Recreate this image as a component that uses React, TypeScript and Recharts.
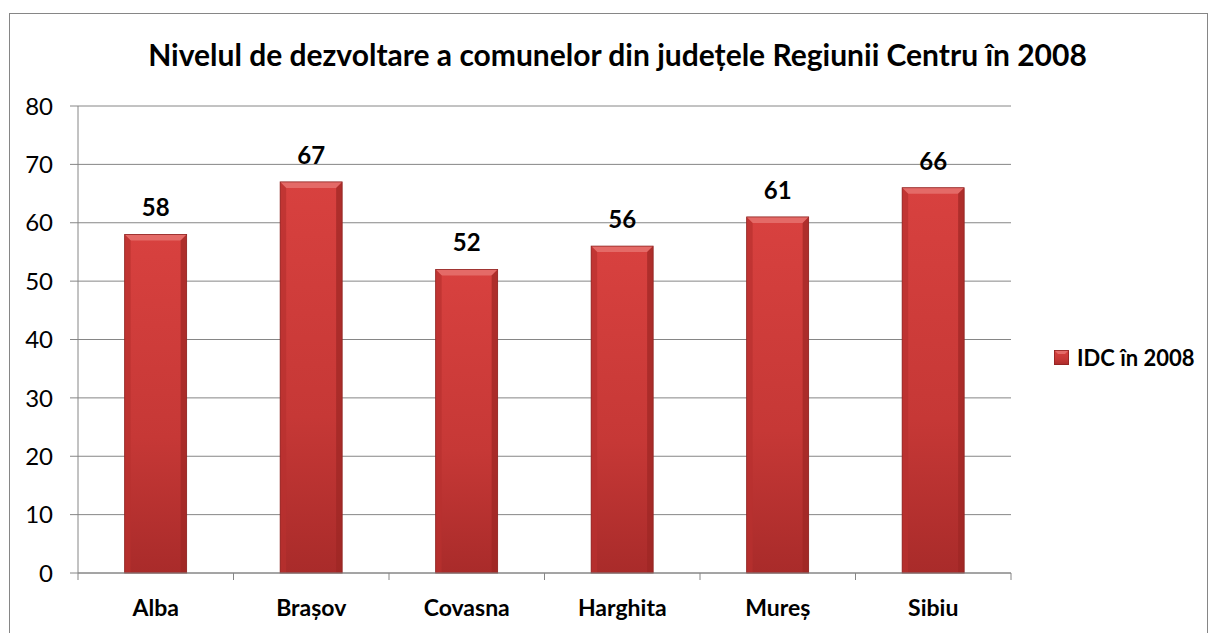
import { BarChart, Bar, XAxis, YAxis, CartesianGrid, LabelList } from 'recharts'

const judete = ['Alba', 'Brașov', 'Covasna', 'Harghita', 'Mureș', 'Sibiu']
const idc2008 = [58, 67, 52, 56, 61, 66]
const yTicks = [0, 10, 20, 30, 40, 50, 60, 70, 80]

const data = judete.map((name, i) => ({ name, idc: idc2008[i] }))

const FONT = 'Lato, "Open Sans", sans-serif'

function BevelBar(props: any) {
    const { x, y, width, height } = props
    if (!height || height <= 0) return null
    const b = 6
    return (
        <g>
            <rect x={x} y={y} width={width} height={height} fill="url(#barFill)" />
            <polygon points={`${x},${y} ${x + width},${y} ${x + width - b},${y + b} ${x + b},${y + b}`} fill="#e46a67" />
            <polygon points={`${x},${y} ${x + b},${y + b} ${x + b},${y + height} ${x},${y + height}`} fill="#b8302f" opacity={0.7} />
            <polygon points={`${x + width},${y} ${x + width - b},${y + b} ${x + width - b},${y + height} ${x + width},${y + height}`} fill="#9c2624" opacity={0.7} />
            <rect x={x} y={y} width={width} height={height} fill="none" stroke="#8f2422" strokeWidth={0.8} />
        </g>
    )
}

function CategoryTick(props: any) {
    const { x, y, payload, width, visibleTicksCount, index } = props
    const band = width / visibleTicksCount
    return (
        <g>
            <line x1={x - band / 2} y1={y} x2={x - band / 2} y2={y + 7} stroke="#868686" />
            {index === visibleTicksCount - 1 && (
                <line x1={x + band / 2} y1={y} x2={x + band / 2} y2={y + 7} stroke="#868686" />
            )}
            <text x={x} y={y + 27} dy="0.71em" textAnchor="middle" fill="#000" fontWeight="bold" fontSize={23} fontFamily={FONT}>
                {payload.value}
            </text>
        </g>
    )
}

function ValueTick(props: any) {
    const { x, y, payload } = props
    return (
        <text x={x} y={y} dy="0.36em" textAnchor="end" fill="#000" fontSize={24} fontFamily={FONT}>
            {payload.value}
        </text>
    )
}

export default function App() {
    return (
        <div style={{ position: 'absolute', left: 0, top: 0, width: 1215, height: 633, background: '#fff', overflow: 'hidden' }}>
            <div style={{ position: 'absolute', left: 9, top: 13, width: 1197, height: 640, border: '1.5px solid #868686' }} />
            <div style={{ position: 'absolute', left: 0, top: 36, width: 1235, textAlign: 'center', fontFamily: FONT, fontWeight: 'bold', fontSize: 30, color: '#000' }}>
                Nivelul de dezvoltare a comunelor din județele Regiunii Centru în 2008
            </div>
            <div style={{ position: 'absolute', left: 0, top: 0 }}>
                <BarChart width={1215} height={633} data={data} margin={{ top: 106, right: 204, bottom: 0, left: 0 }} barCategoryGap="30%">
                    <defs>
                        <linearGradient id="barFill" x1="0" y1="0" x2="0" y2="1">
                            <stop offset="0%" stopColor="#d8413f" />
                            <stop offset="60%" stopColor="#c63836" />
                            <stop offset="100%" stopColor="#a92b2a" />
                        </linearGradient>
                    </defs>
                    <CartesianGrid vertical={false} stroke="#868686" strokeWidth={1} />
                    <XAxis
                        dataKey="name"
                        axisLine={{ stroke: '#868686' }}
                        tickLine={false}
                        tickSize={0}
                        tickMargin={0}
                        height={60}
                        tick={<CategoryTick />}
                        interval={0}
                    />
                    <YAxis
                        domain={[0, 80]}
                        ticks={yTicks}
                        width={78}
                        axisLine={{ stroke: '#868686' }}
                        tickLine={{ stroke: '#868686' }}
                        tickSize={8}
                        tickMargin={17}
                        tick={<ValueTick />}
                    />
                    <Bar dataKey="idc" name="IDC în 2008" shape={<BevelBar />} isAnimationActive={false}>
                        <LabelList dataKey="idc" position="top" offset={18} fill="#000" fontWeight="bold" fontSize={24} fontFamily={FONT} />
                    </Bar>
                </BarChart>
            </div>
            <div style={{ position: 'absolute', left: 1054, top: 344, display: 'flex', alignItems: 'center', fontFamily: FONT, fontWeight: 'bold', fontSize: 22 }}>
                <svg width={15} height={15} style={{ marginRight: 8 }}>
                    <rect x={0} y={0} width={15} height={15} fill="url(#barFill)" />
                    <polygon points="0,0 15,0 11,4 4,4" fill="#e46a67" />
                    <rect x={0.5} y={0.5} width={14} height={14} fill="none" stroke="#8f2422" strokeWidth={0.8} />
                </svg>
                <span>IDC în 2008</span>
            </div>
        </div>
    )
}
